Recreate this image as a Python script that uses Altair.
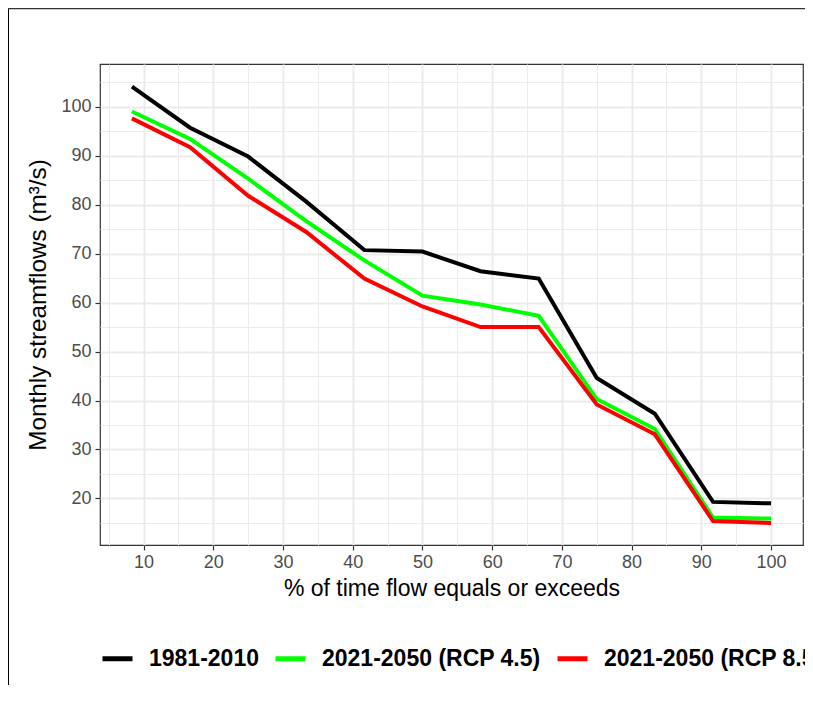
import altair as alt
import pandas as pd

# ---- data ----
exceedance = [8.33, 16.67, 25.0, 33.33, 41.67, 50.0, 58.33, 66.67, 75.0, 83.33, 91.67, 100.0]
baseline = [104.1, 95.7, 89.8, 80.6, 70.7, 70.4, 66.4, 64.9, 44.6, 37.3, 19.3, 19.0]
rcp45 = [99.0, 93.4, 85.3, 76.6, 68.6, 61.4, 59.6, 57.3, 40.3, 34.2, 16.1, 15.9]
rcp85 = [97.6, 91.7, 81.8, 74.4, 64.9, 59.2, 55.0, 55.0, 39.2, 33.1, 15.4, 15.0]
series_names = ["1981-2010", "2021-2050 (RCP 4.5)", "2021-2050 (RCP 8.5)"]
series_colors = ["#000000", "#00FF00", "#FF0000"]

x_major = [10, 20, 30, 40, 50, 60, 70, 80, 90, 100]
x_minor = [5, 15, 25, 35, 45, 55, 65, 75, 85, 95]
y_major = [20, 30, 40, 50, 60, 70, 80, 90, 100]
y_minor = [15, 25, 35, 45, 55, 65, 75, 85, 95, 105]

rows = []
for name, vals in zip(series_names, [baseline, rcp45, rcp85]):
    for xv, yv in zip(exceedance, vals):
        rows.append({"x": xv, "y": yv, "series": name})
df = pd.DataFrame(rows)

W, H = 703, 481
FONT = "Liberation Sans"

xscale = alt.Scale(domain=[3.75, 104.58], nice=False, zero=False)
yscale = alt.Scale(domain=[10.5, 108.7], nice=False, zero=False)

minor = alt.Chart(df).mark_point(opacity=0).encode(
    x=alt.X("x:Q", scale=xscale,
            axis=alt.Axis(values=x_minor, labels=False, ticks=False, domain=False,
                          grid=True, gridColor="#EBEBEB", gridWidth=1, title=None,
                          orient="bottom")),
    y=alt.Y("y:Q", scale=yscale,
            axis=alt.Axis(values=y_minor, labels=False, ticks=False, domain=False,
                          grid=True, gridColor="#EBEBEB", gridWidth=1, title=None,
                          orient="left")),
)

lines = alt.Chart(df).mark_line(strokeWidth=4).encode(
    x=alt.X("x:Q", scale=xscale,
            axis=alt.Axis(values=x_major, grid=True, gridColor="#EBEBEB", gridWidth=2,
                          domain=False, tickColor="#333333", tickSize=5, tickWidth=1.2,
                          labelFontSize=18, labelColor="#4D4D4D", labelPadding=3,
                          title="% of time flow equals or exceeds",
                          titleFontSize=23, titleFontWeight="normal", titleColor="#000000",
                          titlePadding=6, orient="bottom")),
    y=alt.Y("y:Q", scale=yscale,
            axis=alt.Axis(values=y_major, grid=True, gridColor="#EBEBEB", gridWidth=2,
                          domain=False, tickColor="#333333", tickSize=5, tickWidth=1.2,
                          labelFontSize=18, labelColor="#4D4D4D", labelPadding=4,
                          title="Monthly streamflows (m³/s)",
                          titleFontSize=24.3, titleFontWeight="normal", titleColor="#000000",
                          titlePadding=10, orient="left")),
    color=alt.Color("series:N",
                    scale=alt.Scale(domain=series_names, range=series_colors),
                    sort=series_names,
                    legend=alt.Legend(orient="none", direction="horizontal", title=None,
                                      legendX=0, legendY=577,
                                      symbolType="stroke", symbolSize=900,
                                      symbolStrokeWidth=5,
                                      labelFontSize=23, labelFontWeight="bold",
                                      labelColor="#000000", labelOffset=14,
                                      columnPadding=6, labelLimit=1000)),
)

frame_left = alt.Chart(pd.DataFrame({"k": [0]})).mark_rule(color="#000000", strokeWidth=1).encode(
    x=alt.value(-91.5), y=alt.value(-56), y2=alt.value(H + 140)
)
frame_top = alt.Chart(pd.DataFrame({"k": [0]})).mark_rule(color="#333333", strokeWidth=1.5).encode(
    x=alt.value(-92), x2=alt.value(W + 2), y=alt.value(-55.5)
)

chart = alt.layer(minor, lines, frame_left, frame_top).resolve_axis(
    x="independent", y="independent"
).properties(
    width=W, height=H,
    autosize=alt.AutoSizeParams(type="none"),
    padding={"left": 92, "top": 56, "right": 2, "bottom": 140},
).configure(font=FONT).configure_view(
    stroke="#333333", strokeWidth=1.2
)

chart.save("out.html", embed_options={"renderer": "svg", "actions": False})
